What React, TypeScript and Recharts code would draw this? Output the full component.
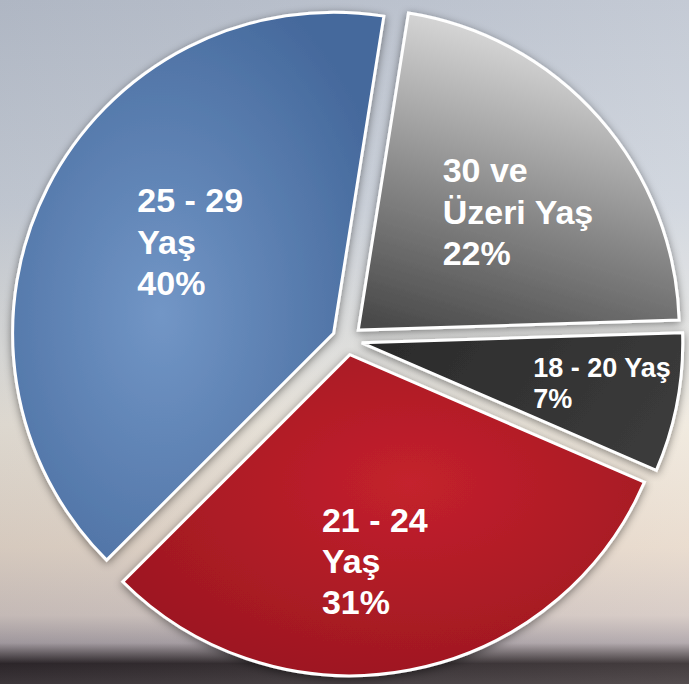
import React from 'react';
import { PieChart, Pie, Cell } from 'recharts';

// data
const AGE_GROUPS = ['30 ve Üzeri Yaş', '18 - 20 Yaş', '21 - 24 Yaş', '25 - 29 Yaş'];
const SHARES = [22, 7, 31, 40];
const LABEL_LINES = [['30 ve', 'Üzeri Yaş'], ['18 - 20 Yaş'], ['21 - 24', 'Yaş'], ['25 - 29', 'Yaş']];

const FILLS = ['url(#gradGray)', 'url(#gradDark)', 'url(#gradRed)', 'url(#gradBlue)'];

// label placement: polar point at k * outerRadius, then shifted
const LABEL_LAYOUT = [
    { k: 0.55, dx: -48, dy: -31, size: 34, lh: 41.5 },
    { k: 0.75, dx: -65, dy: -11, size: 27, lh: 31 },
    { k: 0.55, dx: -61, dy: 4, size: 34, lh: 41 },
    { k: 0.55, dx: -39, dy: -41, size: 34, lh: 41.5 },
];

const W = 689;
const H = 684;
const CX = 347;
const CY = 340;
const OUTER = 321;
const EXPLODE = 15;
const START = 81;

const rows = AGE_GROUPS.map((name, i) => ({ name, value: SHARES[i] }));
const total = SHARES.reduce((a, b) => a + b, 0);

const midAngles = SHARES.map((v, i) => {
    const before = SHARES.slice(0, i).reduce((a, b) => a + b, 0);
    return START - ((before + v / 2) / total) * 360;
});

const RAD = Math.PI / 180;

const makeLabel = (slice: number) => (props: any) => {
    if (props.index !== slice) return null;
    const lay = LABEL_LAYOUT[slice];
    const r = props.outerRadius * lay.k;
    const px = props.cx + r * Math.cos(-props.midAngle * RAD) + lay.dx;
    const py = props.cy + r * Math.sin(-props.midAngle * RAD) + lay.dy;
    const lines = [...LABEL_LINES[slice], `${SHARES[slice]}%`];
    return (
        <text
            x={px}
            y={py}
            fill="#ffffff"
            fontSize={lay.size}
            fontWeight="bold"
            fontFamily="'Liberation Sans', Arial, sans-serif"
            textAnchor="start"
        >
            {lines.map((t, j) => (
                <tspan key={j} x={px} y={py + j * lay.lh}>
                    {t}
                </tspan>
            ))}
        </text>
    );
};

export default function App() {
    return (
        <div
            style={{
                position: 'absolute',
                top: 0,
                left: 0,
                width: W,
                height: H,
                overflow: 'hidden',
                background:
                    'linear-gradient(90deg, rgba(60,70,90,0.10) 0%, rgba(255,255,255,0.12) 100%), linear-gradient(180deg, #bcc3cf 0%, #cdd3dc 30%, #e6e5e1 52%, #efe8dc 62%, #e7d8c9 80%, #d3c6c0 90%, #aaa0a4 94%, #2a2224 97%, #3c3436 100%)',
            }}
        >
            <svg width={0} height={0} style={{ position: 'absolute' }}>
                <defs>
                    <radialGradient id="gradBlue" cx="40%" cy="55%" r="65%">
                        <stop offset="0%" stopColor="#7296c6" />
                        <stop offset="100%" stopColor="#45699c" />
                    </radialGradient>
                    <linearGradient id="gradGray" x1="0.45" y1="0" x2="0.15" y2="1">
                        <stop offset="0%" stopColor="#e0e0e0" />
                        <stop offset="55%" stopColor="#8a8a8a" />
                        <stop offset="100%" stopColor="#4a4a4a" />
                    </linearGradient>
                    <linearGradient id="gradDark" x1="0" y1="0" x2="1" y2="0.3">
                        <stop offset="0%" stopColor="#2a2a2a" />
                        <stop offset="100%" stopColor="#3a3a3a" />
                    </linearGradient>
                    <radialGradient id="gradRed" cx="55%" cy="40%" r="65%">
                        <stop offset="0%" stopColor="#c4212d" />
                        <stop offset="100%" stopColor="#9c1720" />
                    </radialGradient>
                    <filter id="sliceShadow" x="-10%" y="-10%" width="120%" height="120%">
                        <feDropShadow dx="0" dy="2" stdDeviation="4" floodColor="#000" floodOpacity="0.45" />
                    </filter>
                </defs>
            </svg>
            <PieChart width={W} height={H} margin={{ top: 0, right: 0, bottom: 0, left: 0 }}>
                {SHARES.map((_, slice) => (
                    <Pie
                        key={slice}
                        data={rows}
                        dataKey="value"
                        nameKey="name"
                        cx={CX + EXPLODE * Math.cos(midAngles[slice] * RAD)}
                        cy={CY - EXPLODE * Math.sin(midAngles[slice] * RAD)}
                        innerRadius={0}
                        outerRadius={OUTER}
                        startAngle={START}
                        endAngle={START - 360}
                        paddingAngle={0}
                        labelLine={false}
                        label={makeLabel(slice)}
                        isAnimationActive={false}
                    >
                        {rows.map((_, j) => (
                            <Cell
                                key={`cell-${j}`}
                                fill={j === slice ? FILLS[j] : 'none'}
                                stroke={j === slice ? '#ffffff' : 'none'}
                                strokeWidth={3}
                                filter={j === slice ? 'url(#sliceShadow)' : undefined}
                            />
                        ))}
                    </Pie>
                ))}
            </PieChart>
        </div>
    );
}
